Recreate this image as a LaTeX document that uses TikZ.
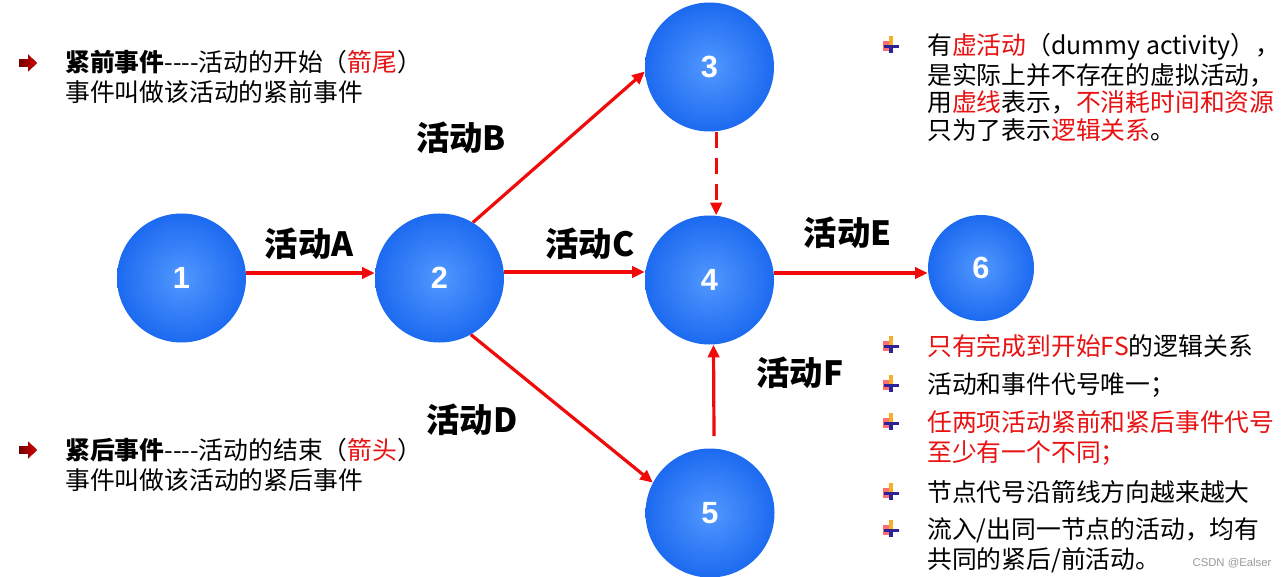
\documentclass[tikz,border=0pt]{standalone}
\usepackage{fontspec}
\setmainfont{Noto Sans CJK SC}
\newfontfamily\cjk{Noto Sans CJK SC}
\newfontfamily\arialf{Liberation Sans}
\usetikzlibrary{arrows.meta}
\definecolor{rd}{RGB}{232,18,18}
\definecolor{lnred}{RGB}{240,10,10}
\definecolor{ballin}{RGB}{82,152,255}
\definecolor{ballout}{RGB}{28,106,240}
\definecolor{bulnavy}{RGB}{45,35,150}
\definecolor{bulgold}{RGB}{245,175,40}
\newcommand\hy{-\kern0pt}
\newcommand\pinbul[1]{%
  \begin{scope}[shift={(#1)}]
    \fill[red!75,opacity=0.75] (-8,-4) rectangle (-2,6);
    \fill[bulgold] (-1.6,-9) rectangle (1.6,0);
    \fill[bulnavy] (-7,0) rectangle (8,3);
    \fill[bulnavy] (-1.6,0) rectangle (1.6,8);
  \end{scope}}
\newcommand\arrbul[1]{%
  \begin{scope}[shift={(#1)}]
    \fill[left color=red!45!black, right color=red!85!black]
      (-9,-3.8) -- (0,-3.8) -- (0,-8.5) -- (9,0) -- (0,8.5) -- (0,3.8) -- (-9,3.8) -- cycle;
  \end{scope}}
\begin{document}
\begin{tikzpicture}[x=0.75pt,y=-0.75pt,
  ball/.style={circle, minimum size=96.75pt, inner sep=0pt, shading=radial,
    inner color=ballin, outer color=ballout, text=white,
    font=\arialf\bfseries\fontsize{23}{23}\selectfont},
  arr/.style={draw=lnred, line width=2.4pt, -{Triangle[length=9.5pt,width=8.5pt]}},
  dasharr/.style={arr, dash pattern=on 12.5pt off 7pt},
  lab/.style={inner sep=0pt, font=\cjk\bfseries\fontsize{25}{25}\selectfont},
  txt/.style={anchor=west, inner sep=0pt, text height=15.6pt, text depth=2.8pt,
    font=\cjk\fontsize{18.6}{20}\selectfont},
  wm/.style={inner sep=0pt, text=black!40, font=\arialf\fontsize{8.5}{9}\selectfont}]
\useasboundingbox (0,0) rectangle (1284,577);
\fill[white] (0,0) rectangle (1284,577);

% event nodes
\node[ball] (n1) at (181.5,278) {1};
\node[ball] (n2) at (439.5,278) {2};
\node[ball] (n3) at (709.5,67) {3};
\node[ball] (n4) at (709.5,280) {4};
\node[ball] (n5) at (710,513) {5};
\node[ball, minimum size=79.5pt] (n6) at (981,268) {6};

% activities
\draw[arr] ([yshift=3.75pt]n1.east) -- ([yshift=3.75pt]n2.west);
\draw[arr] (n2.59) -- (n3.184);
\draw[arr] ([yshift=4.5pt]n2.east) -- ([yshift=6pt]n4.west);
\draw[arr] (n2.-61) -- (n5.152);
\draw[arr] ([yshift=5.25pt]n4.east) -- ([yshift=-3.75pt]n6.west);
\draw[arr] ([xshift=3pt,yshift=9pt]n5.north) -- ([xshift=3pt]n4.south);
\draw[dasharr] ([xshift=5pt]n3.south) -- ([xshift=5pt]n4.north);

% activity labels
\node[lab] (la) at (309,244) {活动A};
\node[lab] (lb) at (461,138) {活动B};
\node[lab] (lc) at (590,244) {活动C};
\node[lab] (ld) at (472,420) {活动D};
\node[lab] (le) at (847.5,232.5) {活动E};
\node[lab] (lf) at (800,373) {活动F};

% left texts
\arrbul{28,63}
\node[txt] (t1) at (65,63) {{\bfseries 紧前事件}\hy\hy\hy\hy 活动的开始（\textcolor{rd}{箭尾}）};
\node[txt] (t2) at (65,93) {事件叫做该活动的紧前事件};
\arrbul{28,450}
\node[txt] (t3) at (65,451) {{\bfseries 紧后事件}\hy\hy\hy\hy 活动的结束（\textcolor{rd}{箭头}）};
\node[txt] (t4) at (65,481) {事件叫做该活动的紧后事件};

% right top text
\pinbul{891,45}
\node[txt] (r1) at (927,46) {有\textcolor{rd}{虚活动}（dummy activity），};
\node[txt] (r2) at (927,76) {是实际上并不存在的虚拟活动，};
\node[txt] (r3) at (927,103) {用\textcolor{rd}{虚线}表示，\textcolor{rd}{不消耗时间和资源}};
\node[txt] (r4) at (927,131) {只为了表示\textcolor{rd}{逻辑关系}。};

% right bottom list
\pinbul{891,345}
\node[txt] (b1) at (927,347) {\textcolor{rd}{只有完成到开始FS}的逻辑关系};
\pinbul{891,384}
\node[txt] (b2) at (927,385) {活动和事件代号唯一；};
\pinbul{891,422}
\node[txt] (b3) at (927,423) {\textcolor{rd}{任两项活动紧前和紧后事件代号}};
\node[txt] (b4) at (927,453) {\textcolor{rd}{至少有一个不同；}};
\pinbul{891,492}
\node[txt] (b5) at (927,493) {节点代号沿箭线方向越来越大};
\pinbul{891,529}
\node[txt] (b6) at (927,530) {流入/出同一节点的活动，均有};
\node[txt] (b7) at (927,560) {共同的紧后/前活动。};

\node[wm] (w) at (1232,563) {CSDN @Ealser};
\end{tikzpicture}
\end{document}
